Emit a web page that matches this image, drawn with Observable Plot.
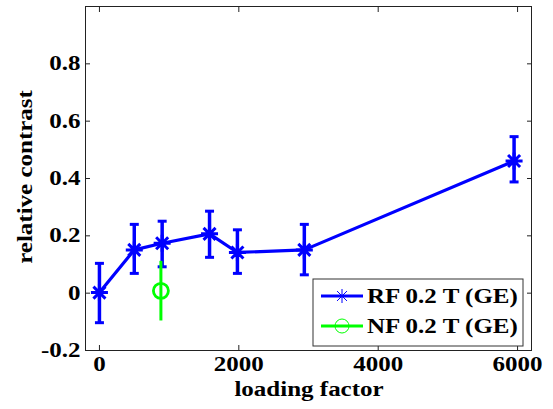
<!DOCTYPE html>
<html><head><meta charset="utf-8">
<script src="https://cdn.jsdelivr.net/npm/d3@7"></script>
<script src="https://cdn.jsdelivr.net/npm/@observablehq/plot@0.6"></script>
<style>body{margin:0;background:#fff}</style>
</head><body><div id="chart"></div>
<script>
const rfX  = [0, 500, 900, 1580, 1980, 2940, 5950];
const rfY  = [0.002, 0.151, 0.174, 0.207, 0.142, 0.151, 0.461];
const rfLo = [-0.103, 0.069, 0.092, 0.125, 0.069, 0.064, 0.388];
const rfHi = [0.104, 0.240, 0.251, 0.286, 0.221, 0.240, 0.546];
const nfX  = [882];
const nfY  = [0.008];
const nfLo = [-0.097];
const nfHi = [0.111];
const xTicks = [0, 2000, 4000, 6000];
const yTicks = [-0.2, 0, 0.2, 0.4, 0.6, 0.8];
const seriesNames = ["RF 0.2 T (GE)", "NF 0.2 T (GE)"];
const seriesColors = ["#0000ff", "#00ff00"];
const xLabel = "loading factor";
const yLabel = "relative contrast";

const rf = rfX.map((x, i) => ({x, y: rfY[i], lo: rfLo[i], hi: rfHi[i]}));
const nf = nfX.map((x, i) => ({x, y: nfY[i], lo: nfLo[i], hi: nfHi[i]}));

const asterisk = {draw(ctx, size) {
  const r = Math.sqrt(size / Math.PI), d = r * Math.SQRT1_2;
  ctx.moveTo(-r, 0); ctx.lineTo(r, 0);
  ctx.moveTo(0, -r); ctx.lineTo(0, r);
  ctx.moveTo(-d, -d); ctx.lineTo(d, d);
  ctx.moveTo(-d, d); ctx.lineTo(d, -d);
}};
const cap = {draw(ctx, size) {
  const r = Math.sqrt(size / Math.PI);
  ctx.moveTo(-r, 0); ctx.lineTo(r, 0);
}};
const fmtY = d => d === 0 ? "0" : (d < 0 ? "-" : "") + Math.abs(d).toFixed(1);
const fmtX = d => String(d);
const SX = 1.25;
const font = {fontFamily: "'Liberation Serif', 'Times New Roman', serif", fontSize: "20px", fontWeight: "bold"};

const W = 553, H = 409, mL = 85, mR = 22, mT = 6, mB = 59;
const plot = Plot.plot({
  width: W, height: H,
  marginLeft: mL, marginRight: mR, marginTop: mT, marginBottom: mB,
  style: {...font, background: "#fff", color: "#000"},
  x: {domain: [-200, 6200]},
  y: {domain: [-0.2, 1.0]},
  marks: [
    Plot.axisX(xTicks, {anchor: "bottom", tickSize: 0, tickPadding: 6, tickFormat: fmtX, label: null, stroke: null}),
    Plot.axisY(yTicks, {anchor: "left", tickSize: 0, tickPadding: 5, tickFormat: fmtY, label: null, stroke: null}),
    Plot.axisX(xTicks, {anchor: "bottom", tickSize: -5, tickFormat: () => "", label: null, stroke: "#222"}),
    Plot.axisX(xTicks, {anchor: "top", tickSize: -5, tickFormat: () => "", label: null, stroke: "#222"}),
    Plot.axisY(yTicks, {anchor: "left", tickSize: -5, tickFormat: () => "", label: null, stroke: "#222"}),
    Plot.axisY(yTicks, {anchor: "right", tickSize: -5, tickFormat: () => "", label: null, stroke: "#222"}),
    Plot.frame({stroke: "#222", strokeWidth: 1}),
    Plot.line(rf, {x: "x", y: "y", stroke: seriesColors[0], strokeWidth: 3.2}),
    Plot.ruleX(rf, {x: "x", y1: "lo", y2: "hi", stroke: seriesColors[0], strokeWidth: 3.5}),
    Plot.dot(rf, {x: "x", y: "hi", symbol: cap, r: 4.5, stroke: seriesColors[0], strokeWidth: 3, fill: "none"}),
    Plot.dot(rf, {x: "x", y: "lo", symbol: cap, r: 4.5, stroke: seriesColors[0], strokeWidth: 3, fill: "none"}),
    Plot.dot(rf, {x: "x", y: "y", symbol: asterisk, r: 8.5, stroke: seriesColors[0], strokeWidth: 3, fill: "none"}),
    Plot.ruleX(nf, {x: "x", y1: "lo", y2: "hi", stroke: seriesColors[1], strokeWidth: 3}),
    Plot.dot(nf, {x: "x", y: "y", symbol: "circle", r: 7.5, stroke: seriesColors[1], strokeWidth: 2.8, fill: "none"})
  ]
});
document.getElementById("chart").appendChild(plot);

// widen the glyphs horizontally (the reference uses a wide bold serif)
plot.querySelectorAll("text").forEach(t => {
  if (!t.textContent) return;
  const tr = t.getAttribute("transform");
  if (tr) t.setAttribute("transform", tr + ` scale(${SX},1)`);
  else {
    const x = +(t.getAttribute("x") || 0), y = +(t.getAttribute("y") || 0);
    t.removeAttribute("x"); t.removeAttribute("y");
    t.setAttribute("transform", `translate(${x},${y}) scale(${SX},1)`);
  }
});

const svg = d3.select(plot);
svg.append("text").attr("transform", `translate(309,396) scale(${SX},1)`).attr("text-anchor", "middle")
  .attr("fill", "#000").text(xLabel);
svg.append("text").attr("transform", `translate(32,177) rotate(-90) scale(${SX},1)`).attr("text-anchor", "middle")
  .attr("fill", "#000").text(yLabel);

// legend
const lg = svg.append("g");
lg.append("rect").attr("x", 313).attr("y", 279).attr("width", 210).attr("height", 67)
  .attr("fill", "#fff").attr("stroke", "#333").attr("stroke-width", 1);
const rows = [296, 326];
seriesNames.forEach((name, i) => {
  const cy = rows[i];
  lg.append("line").attr("x1", 321).attr("x2", 363).attr("y1", cy).attr("y2", cy)
    .attr("stroke", seriesColors[i]).attr("stroke-width", 3.2);
  if (i === 0) {
    const path = d3.path(); asterisk.draw(path, Math.PI * 7 * 7);
    lg.append("path").attr("d", path.toString()).attr("transform", `translate(342,${cy})`)
      .attr("stroke", seriesColors[i]).attr("stroke-width", 1).attr("fill", "none");
  } else {
    lg.append("circle").attr("cx", 342).attr("cy", cy).attr("r", 7)
      .attr("stroke", seriesColors[i]).attr("stroke-width", 1).attr("fill", "none");
  }
  lg.append("text").attr("transform", `translate(367,${cy + 7}) scale(${SX},1)`).attr("text-anchor", "start")
    .attr("fill", "#000").text(name);
});
</script>
</body></html>
